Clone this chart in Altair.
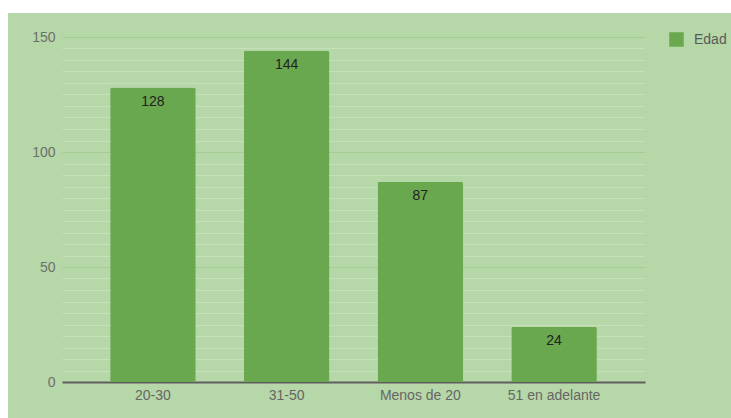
import altair as alt
import pandas as pd

categories = ["20-30", "31-50", "Menos de 20", "51 en adelante"]
values = [128, 144, 87, 24]
series = ["Edad", "Edad", "Edad", "Edad"]

df = pd.DataFrame({"cat": categories, "val": values, "serie": series})

BG = "#b6d7a8"
BAR = "#6aa84f"
FONT = "Liberation Sans"

x_enc = alt.X("cat:N", sort=None, title=None,
              scale=alt.Scale(paddingInner=0.36, paddingOuter=0.36),
              axis=alt.Axis(labelAngle=0, ticks=False, domainColor="#5f5f5f", domainWidth=2,
                            labelColor="#666666", labelFont=FONT, labelFontSize=14,
                            labelPadding=6, grid=False))
y_enc = alt.Y("val:Q", title=None,
              scale=alt.Scale(domain=[0, 150], nice=False),
              axis=alt.Axis(values=list(range(0, 151, 5)), ticks=False, domain=False,
                            labelOverlap=False,
                            labelExpr="datum.value % 50 === 0 ? datum.label : ''",
                            labelColor="#6e6e6e", labelFont=FONT, labelFontSize=14,
                            labelPadding=7,
                            gridColor=alt.condition("datum.value % 50 === 0",
                                                    alt.value("#a5cd93"), alt.value("#c6e1ba")),
                            gridWidth=1.2))

# white margin strips (top and left) of the page around the green card
strip_top = alt.Chart(df).mark_rect(color="white").encode(
    x=alt.value(-62), x2=alt.value(669), y=alt.value(-37), y2=alt.value(-24)
)
strip_left = alt.Chart(df).mark_rect(color="white").encode(
    x=alt.value(-62), x2=alt.value(-54), y=alt.value(-37), y2=alt.value(381)
)

bars = alt.Chart(df).mark_bar(cornerRadius=2).encode(
    x=x_enc, y=y_enc,
    color=alt.Color("serie:N", scale=alt.Scale(range=[BAR]),
                    legend=alt.Legend(title=None, orient="none", legendX=607, legendY=-5,
                                      symbolType="square", symbolSize=210, symbolStrokeWidth=0,
                                      labelColor="#5a5a5a", labelFont=FONT, labelFontSize=14,
                                      padding=0, labelOffset=10))
)

labels = alt.Chart(df).mark_text(baseline="top", dy=7, fontSize=14, font=FONT, color="#222222").encode(
    x=x_enc, y=y_enc, text="val:Q"
)

chart = alt.layer(bars, labels, strip_top, strip_left).properties(
    width=583, height=345,
    autosize=alt.AutoSizeParams(type="none"),
    padding={"left": 62, "top": 37, "right": 86, "bottom": 36},
    background=BG,
).configure_view(stroke=None)

chart.save("out.html", embed_options={"renderer": "svg", "actions": False})
